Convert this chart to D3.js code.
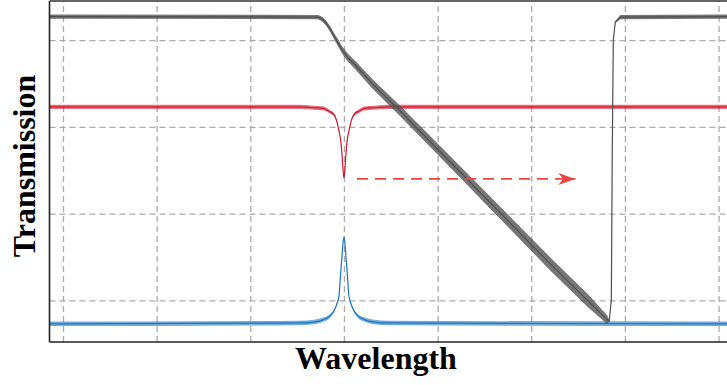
<!DOCTYPE html>
<html>
<head>
<meta charset="utf-8">
<script src="https://cdn.jsdelivr.net/npm/d3@7"></script>
<style>
  body { margin: 0; background: #fff; }
  .grid line { stroke: #ababab; stroke-width: 1.3; stroke-dasharray: 6,4; }
  .grid path { display: none; }
  .label { font-family: "Liberation Serif", "Times New Roman", serif; font-weight: bold; font-size: 32px; fill: #000; }
</style>
</head>
<body>
<div id="chart"></div>
<script>
// grid positions (arbitrary wavelength / transmission units)
const xTicks = [0, 1, 2, 3, 4, 5, 6, 7];
const yTicks = [1, 2, 3, 4];

// filter edge (gray)
const grayX = [-0.14, 2.724, 2.767, 2.810, 2.853, 2.895, 2.938, 2.981, 3.045, 3.120, 3.300, 3.600, 4.135, 4.669, 5.203, 5.600, 5.812, 5.833, 5.855, 5.865, 5.876, 5.897, 5.951, 7.1];
const grayY = [4.27, 4.265, 4.242, 4.196, 4.127, 4.046, 3.965, 3.885, 3.793, 3.712, 3.500, 3.182, 2.595, 2.008, 1.420, 1.000, 0.775, 0.764, 1.006, 2.733, 4.0, 4.207, 4.265, 4.27];
const grayNoise = [0.025, 0.025, 0.027, 0.03, 0.033, 0.036, 0.04, 0.042, 0.045, 0.048, 0.055, 0.06, 0.065, 0.07, 0.075, 0.075, 0.05, 0.01, 0, 0, 0, 0.01, 0.025, 0.025];

// resonance dip (red)
const redX = [-0.14, 2.52, 2.68, 2.786, 2.84, 2.893, 2.925, 2.947, 2.957, 2.968, 2.979, 2.989, 3.0, 3.011, 3.021, 3.032, 3.043, 3.053, 3.075, 3.107, 3.16, 3.214, 3.32, 3.48, 7.1];
const redY = [3.23, 3.23, 3.22, 3.21, 3.18, 3.14, 3.06, 2.95, 2.90, 2.82, 2.68, 2.52, 2.41, 2.52, 2.68, 2.82, 2.90, 2.95, 3.06, 3.14, 3.18, 3.21, 3.22, 3.23, 3.23];
const redNoise = [0.024, 0.024, 0.024, 0.023, 0.02, 0.016, 0.01, 0.007, 0.005, 0.004, 0.003, 0.002, 0.002, 0.002, 0.003, 0.004, 0.005, 0.007, 0.01, 0.016, 0.02, 0.023, 0.024, 0.024, 0.024];

// resonance peak (blue)
const blueX = [-0.14, 2.52, 2.68, 2.786, 2.84, 2.893, 2.925, 2.947, 2.957, 2.968, 2.979, 2.989, 3.0, 3.011, 3.021, 3.032, 3.043, 3.053, 3.075, 3.107, 3.16, 3.214, 3.32, 3.48, 7.1];
const blueY = [0.73, 0.74, 0.75, 0.78, 0.81, 0.88, 0.96, 1.05, 1.19, 1.36, 1.51, 1.65, 1.73, 1.65, 1.51, 1.36, 1.19, 1.05, 0.96, 0.88, 0.81, 0.78, 0.75, 0.74, 0.73];
const blueNoise = [0.026, 0.026, 0.026, 0.025, 0.022, 0.016, 0.01, 0.007, 0.005, 0.004, 0.003, 0.002, 0.002, 0.002, 0.003, 0.004, 0.005, 0.007, 0.01, 0.016, 0.022, 0.025, 0.026, 0.026, 0.026];

// tuning arrow
const arrowFrom = [3.14, 2.40];
const arrowTo = [5.47, 2.40];

const W = 727, H = 385;
const margin = {top: 1, right: 0, bottom: 43, left: 49.5};
const width = W - margin.left - margin.right;
const height = H - margin.top - margin.bottom;

const svg = d3.select("#chart").append("svg")
  .attr("width", W)
  .attr("height", H);

const g = svg.append("g")
  .attr("transform", `translate(${margin.left}, ${margin.top})`);

const x = d3.scaleLinear().domain([-0.144, 7.09]).range([0, width]);
const y = d3.scaleLinear().domain([0.52, 4.45]).range([height, 0]);

g.append("g")
  .attr("class", "grid")
  .attr("transform", `translate(0, ${height})`)
  .call(d3.axisBottom(x).tickValues(xTicks).tickSize(-height).tickFormat(""));

g.append("g")
  .attr("class", "grid")
  .call(d3.axisLeft(y).tickValues(yTicks).tickSize(-width).tickFormat(""));

const traces = [
  {xs: grayX, ys: grayY, noise: grayNoise, color: "#4f4f4f", curve: d3.curveLinear, opacity: 0.78},
  {xs: redX, ys: redY, noise: redNoise, color: "#d3172f", curve: d3.curveMonotoneX, opacity: 0.6},
  {xs: blueX, ys: blueY, noise: blueNoise, color: "#1b76c3", curve: d3.curveMonotoneX, opacity: 0.6},
];

const drawTrace = (t) => {
  const pts = t.xs.map((v, i) => ({x: v, y: t.ys[i], n: t.noise[i]}));
  const area = d3.area()
    .x(d => x(d.x))
    .y0(d => y(d.y - d.n))
    .y1(d => y(d.y + d.n))
    .curve(t.curve);
  const line = d3.line()
    .x(d => x(d.x))
    .y(d => y(d.y))
    .curve(t.curve);
  g.append("path")
    .datum(pts)
    .attr("d", area)
    .attr("fill", t.color)
    .attr("fill-opacity", t.opacity);
  g.append("path")
    .datum(pts)
    .attr("d", line)
    .attr("fill", "none")
    .attr("stroke", t.color)
    .attr("stroke-width", 1.2);
};

// blue and red under gray, like the original
drawTrace(traces[2]);
drawTrace(traces[1]);
drawTrace(traces[0]);

// arrow
const defs = svg.append("defs");
defs.append("marker")
  .attr("id", "head")
  .attr("markerUnits", "userSpaceOnUse")
  .attr("viewBox", "0 -7 18 14")
  .attr("refX", 17)
  .attr("refY", 0)
  .attr("markerWidth", 18)
  .attr("markerHeight", 14)
  .attr("orient", "auto")
  .append("path")
  .attr("d", "M0,-6 L17,0 L0,6 L5,0 Z")
  .attr("fill", "#e8473e");

g.append("line")
  .attr("x1", x(arrowFrom[0]))
  .attr("y1", y(arrowFrom[1]))
  .attr("x2", x(arrowTo[0]))
  .attr("y2", y(arrowTo[1]))
  .attr("stroke", "#e8473e")
  .attr("stroke-width", 1.8)
  .attr("stroke-dasharray", "11,7")
  .attr("marker-end", "url(#head)");

// frame: left, bottom, top
g.append("line").attr("x1", 0).attr("x2", 0).attr("y1", 0).attr("y2", height)
  .attr("stroke", "#222").attr("stroke-width", 1.6);
g.append("line").attr("x1", 0).attr("x2", width).attr("y1", height).attr("y2", height)
  .attr("stroke", "#222").attr("stroke-width", 1.6);
g.append("line").attr("x1", 0).attr("x2", width).attr("y1", 0).attr("y2", 0)
  .attr("stroke", "#333").attr("stroke-width", 1.6);

svg.append("text")
  .attr("class", "label")
  .attr("text-anchor", "middle")
  .attr("x", 376)
  .attr("y", 369)
  .text("Wavelength");

svg.append("text")
  .attr("class", "label")
  .attr("text-anchor", "middle")
  .attr("transform", "translate(35, 166) rotate(-90)")
  .text("Transmission");
</script>
</body>
</html>
